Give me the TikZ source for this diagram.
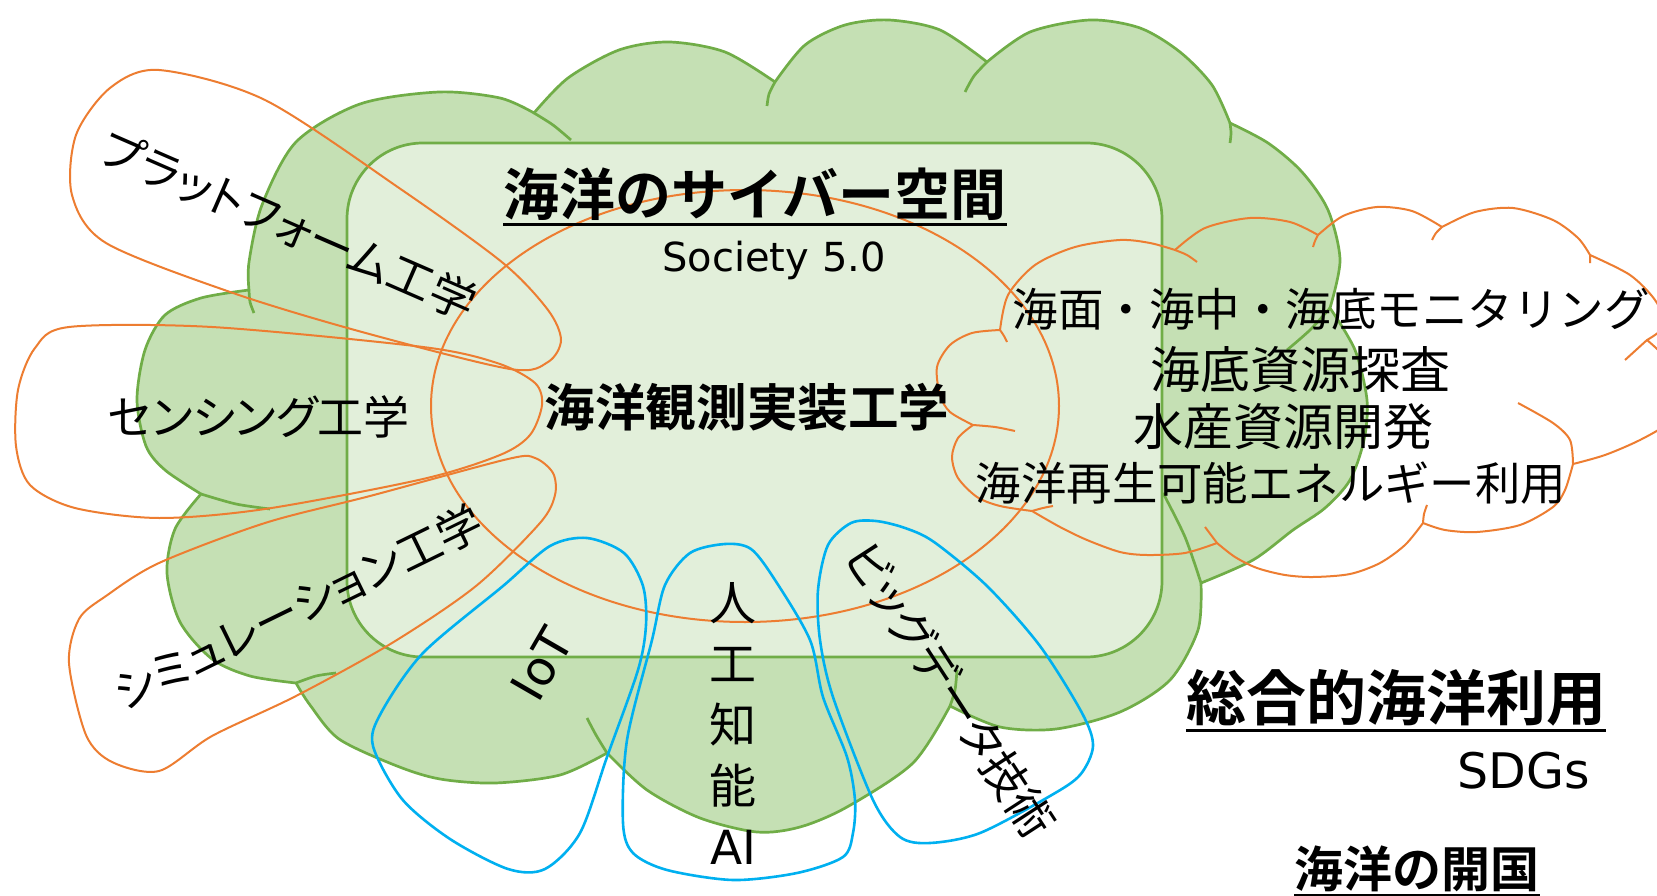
\documentclass[tikz,border=0pt]{standalone}
\usepackage{fontspec}
\setmainfont{DejaVu Sans}
\newfontfamily\jp{Noto Sans CJK JP}[BoldFont={Noto Sans CJK JP Bold}]
\newfontfamily\jpp{Noto Sans CJK JP}[RawFeature={+palt}]
\usepackage{tikz}

\definecolor{leaf}{HTML}{C5E0B4}
\definecolor{leafline}{HTML}{70AD47}
\definecolor{pale}{HTML}{E2EFDA}
\definecolor{sun}{HTML}{ED7D31}
\definecolor{sky}{HTML}{00B0F0}

\tikzstyle{seacloud} = [fill=leaf, draw=leafline, line width=2.7pt, line join=round]
\tikzstyle{cloudtail} = [draw=leafline, line width=2.7pt]
\tikzstyle{cyberbox} = [fill=pale, draw=leafline, line width=2.7pt, rounded corners=76pt]
\tikzstyle{orangering} = [draw=sun, line width=2pt, line join=round]
\tikzstyle{bluering} = [draw=sky, line width=2.6pt]
\tikzstyle{jptext} = [inner sep=0pt, text=black]
\tikzstyle{ul} = [draw=black, line width=3pt]

\begin{document}
\begin{tikzpicture}[x=1pt, y=-1pt]

        % Canvas
        \path [use as bounding box, fill=white] (0,0) rectangle (1657,896);
        \clip (0,0) rectangle (1657,896);

        % Draw the green cloud
        \path [seacloud] plot [smooth] coordinates {(249,290) (249,262) (262,205) (296,142) (360,104) (439,92) (500,98) (534,113)}
            -- plot [smooth] coordinates {(534,113) (568,78) (619,50) (669,42) (725,52) (775,82)}
            -- plot [smooth] coordinates {(775,82) (805,45) (845,25) (889,20) (940,30) (987,62)}
            -- plot [smooth] coordinates {(987,62) (1030,32) (1090,20) (1140,28) (1180,52) (1212,85) (1230,123)}
            -- plot [smooth] coordinates {(1230,123) (1268,143) (1302,172) (1328,210) (1340,260) (1330,308)}
            -- plot [smooth] coordinates {(1330,308) (1355,350) (1367,400) (1364,440) (1350,480) (1325,508) (1293,530) (1253,560) (1201,583)}
            -- plot [smooth] coordinates {(1201,583) (1198,630) (1170,680) (1120,712) (1056,729) (1000,727) (950,706)}
            -- plot [smooth] coordinates {(950,706) (913,763) (847,807) (800,827) (757,832) (700,818) (647,790) (607,753)}
            -- plot [smooth] coordinates {(607,753) (560,775) (495,783) (440,779) (397,766) (339,739) (310,705) (296,683)}
            -- plot [smooth] coordinates {(296,683) (250,676) (212,659) (180,622) (167,573) (175,529) (201,494)}
            -- plot [smooth] coordinates {(201,494) (165,470) (146,446) (137,400) (145,350) (165,315) (201,298) (249,290)}
            -- cycle;
        \draw [cloudtail] plot [smooth] coordinates {(249,290) (250,302) (254,313)}
            plot [smooth] coordinates {(534,113) (553,125) (571,140)}
            plot [smooth] coordinates {(775,82) (769,94) (767,106)}
            plot [smooth] coordinates {(987,62) (974,76) (965,92)}
            plot [smooth] coordinates {(1230,123) (1231,133) (1230,143)}
            plot [smooth] coordinates {(1330,308) (1310,330) (1287,350)}
            plot [smooth] coordinates {(1201,583) (1185,537) (1163,493)}
            plot [smooth] coordinates {(950,706) (955,690) (957,670)}
            plot [smooth] coordinates {(607,753) (596,735) (587,718)}
            plot [smooth] coordinates {(296,683) (316,676) (336,673)}
            plot [smooth] coordinates {(201,494) (236,504) (270,509)};

        % Draw the cyber space box
        \draw [cyberbox] (347,143) rectangle (1162,657);

        % Draw the orange rings
        \draw [orangering] (745,406) ellipse [x radius=314pt, y radius=216pt];
        \draw [orangering] plot [smooth cycle] coordinates {(159,70) (265,100) (402,190) (503,263) (548,310) (561,340) (548,362) (510,369) (362,332) (233,293) (106,243) (72,195) (76,135) (110,88)};
        \draw [orangering] plot [smooth cycle] coordinates {(69,327) (212,327) (423,347) (497,363) (535,383) (542,405) (530,435) (500,455) (423,479) (265,509) (159,518) (75,508) (30,485) (16,446) (18,390) (35,348)};
        \draw [orangering] plot [smooth cycle] coordinates {(508,459) (535,458) (553,473) (555,495) (540,523) (476,586) (392,643) (296,696) (212,736) (159,771) (112,762) (86,735) (69,663) (79,619) (106,596) (159,563) (265,523) (370,496)};
        \draw [orangering] plot [smooth] coordinates {(1000,330) (1008,295) (1035,265) (1075,247) (1120,240) (1150,243) (1175,250)}
            -- plot [smooth] coordinates {(1175,250) (1205,228) (1250,218) (1290,222) (1318,235)}
            -- plot [smooth] coordinates {(1318,235) (1343,216) (1377,207) (1412,211) (1442,227)}
            -- plot [smooth] coordinates {(1442,227) (1475,212) (1513,208) (1553,220) (1578,238) (1590,255)}
            -- plot [smooth] coordinates {(1590,255) (1630,275) (1655,300) (1665,325) (1647,340)}
            -- plot [smooth] coordinates {(1647,340) (1672,365) (1685,400) (1670,422) (1640,440) (1605,455) (1573,464)}
            -- plot [smooth] coordinates {(1573,464) (1565,490) (1553,507) (1520,525) (1477,532) (1445,530) (1423,523)}
            -- plot [smooth] coordinates {(1423,523) (1405,545) (1380,563) (1350,574) (1313,577) (1285,575) (1257,568) (1235,557) (1217,543)}
            -- plot [smooth] coordinates {(1217,543) (1185,553) (1147,555) (1120,552) (1087,540) (1060,527) (1032,511)}
            -- plot [smooth] coordinates {(1032,511) (1000,506) (977,497) (958,478) (952,457) (958,438) (973,425)}
            -- plot [smooth] coordinates {(973,425) (950,412) (940,395) (937,367) (950,345) (972,333) (1000,330)}
            -- cycle;
        \draw [orangering] plot [smooth] coordinates {(1000,330) (1004,336) (1007,342)}
            plot [smooth] coordinates {(1175,250) (1187,255) (1197,262)}
            plot [smooth] coordinates {(1318,235) (1315,241) (1313,247)}
            plot [smooth] coordinates {(1442,227) (1436,233) (1432,240)}
            plot [smooth] coordinates {(1590,255) (1590,259) (1590,263)}
            plot [smooth] coordinates {(1647,340) (1636,350) (1625,360)}
            plot [smooth] coordinates {(1573,464) (1570,440) (1553,423) (1518,403)}
            plot [smooth] coordinates {(1423,523) (1424,514) (1427,505)}
            plot [smooth] coordinates {(1217,543) (1211,535) (1205,527)}
            plot [smooth] coordinates {(1032,511) (1043,508) (1053,506)}
            plot [smooth] coordinates {(973,425) (995,427) (1015,431)};

        % Draw the blue rings
        \draw [bluering] plot [smooth cycle] coordinates {(587,538) (624,553) (643,586) (646,625) (638,670) (607,757) (580,833) (545,869) (508,869) (450,839) (402,799) (373,746) (381,713) (423,653) (503,586) (550,546)};
        \draw [bluering] plot [smooth cycle] coordinates {(725,544) (751,549) (775,580) (810,640) (823,697) (847,757) (855,800) (853,833) (843,857) (797,873) (733,880) (667,870) (633,853) (623,823) (627,740) (652,640) (665,585) (690,553)};
        \draw [bluering] plot [smooth cycle] coordinates {(851,523) (876,521) (905,528) (934,542) (987,586) (1040,646) (1082,713) (1093,746) (1080,775) (1050,796) (980,833) (930,843) (900,837) (873,800) (833,697) (820,640) (818,590) (828,545)};

        % Place nodes
        \node [jptext, font={\jp\bfseries\fontsize{56}{60}\selectfont}] (cyber) at (755,194) {海洋のサイバー空間};
        \node [jptext, font={\fontsize{40}{46}\selectfont}] (society) at (774,260) {Society 5.0};
        \node [jptext, font={\jp\bfseries\fontsize{50.6}{56}\selectfont}] (impl) at (747,407) {海洋観測実装工学};
        \node [jptext, font={\jpp\fontsize{46}{50}\selectfont}] (sensing) at (259,417) {センシング工学};
        \node [jptext, font={\jpp\fontsize{45.5}{52}\selectfont}, rotate=-23.5] (platform) at (289,225) {プラットフォーム工学};
        \node [jptext, font={\jpp\fontsize{45}{52}\selectfont}, rotate=26] (simulation) at (298,607) {シミュレーション工学};
        \node [jptext, font={\fontsize{48}{54}\selectfont}, rotate=60] (iot) at (542,664) {IoT};
        \node [jptext, font={\jp\fontsize{47}{61}\selectfont}, align=center] (ai) at (733,723) {人\\工\\知\\能\\{\rmfamily AI}};
        \node [jptext, font={\jpp\fontsize{46}{52}\selectfont}, rotate=-57] (bigdata) at (951,690) {ビッグデータ技術};
        \node [jptext, font={\jp\fontsize{45.5}{50}\selectfont}] (monitor) at (1331,309) {海面・海中・海底モニタリング};
        \node [jptext, font={\jp\fontsize{50}{56}\selectfont}] (seabed) at (1300,370) {海底資源探査};
        \node [jptext, font={\jp\fontsize{50}{56}\selectfont}] (fishery) at (1283,427) {水産資源開発};
        \node [jptext, font={\jp\fontsize{45.4}{50}\selectfont}] (energy) at (1271,483) {海洋再生可能エネルギー利用};
        \node [jptext, font={\jp\bfseries\fontsize{60}{66}\selectfont}] (use) at (1396,698) {総合的海洋利用};
        \node [jptext, font={\fontsize{49}{56}\selectfont}] (sdgs) at (1524,771) {SDGs};
        \node [jptext, font={\jp\bfseries\fontsize{49}{54}\selectfont}] (open) at (1417,869) {海洋の開国};

        % Draw underlines
        \path [ul] ([yshift=-4pt]cyber.south west) -- ([yshift=-4pt]cyber.south east);
        \path [ul] ([yshift=-4pt]use.south west) -- ([yshift=-4pt]use.south east);
        \path [ul] ([yshift=-3pt]open.south west) -- ([yshift=-3pt]open.south east);

\end{tikzpicture}
\end{document}
